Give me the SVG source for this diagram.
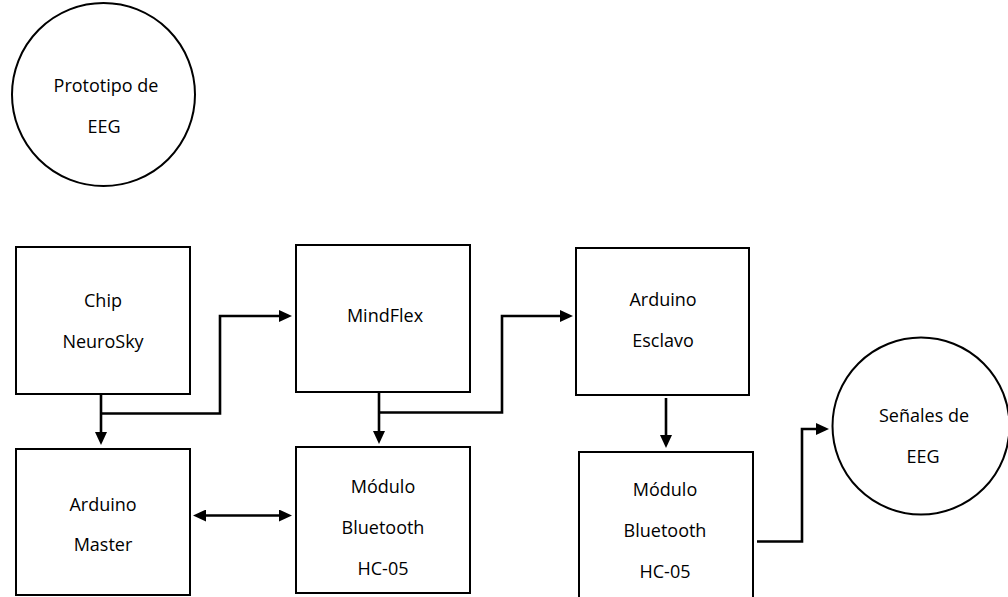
<svg xmlns="http://www.w3.org/2000/svg" width="1008" height="597" viewBox="0 0 1008 597">
<defs>
<style>
.box{fill:#fff;stroke:#000;stroke-width:2}
.circ{fill:#fff;stroke:#000;stroke-width:2}
.lbl{font-family:"Open Sans","Noto Sans","Liberation Sans",sans-serif;font-size:18px;fill:#000;text-anchor:middle}
.wire{fill:none;stroke:#000;stroke-width:2.6}
</style>
<marker id="ah" viewBox="0 0 13 12" refX="0" refY="6" markerWidth="13" markerHeight="12" markerUnits="userSpaceOnUse" orient="auto-start-reverse">
<path d="M0,0 L13,6 L0,12 z" fill="#000"/>
</marker>
</defs>
<rect width="1008" height="597" fill="#fff"/>

<g id="prototipo">
<circle class="circ" cx="103.5" cy="94.5" r="91.5"/>
<text class="lbl" x="106" y="92">Prototipo de</text>
<text class="lbl" x="104" y="133">EEG</text>
</g>

<g id="chip">
<rect class="box" x="16" y="247" width="174" height="147"/>
<text class="lbl" x="103" y="307">Chip</text>
<text class="lbl" x="103" y="348">NeuroSky</text>
</g>

<g id="mindflex">
<rect class="box" x="296" y="245" width="174" height="147"/>
<text class="lbl" x="385" y="322">MindFlex</text>
</g>

<g id="esclavo">
<rect class="box" x="576" y="248" width="173" height="147"/>
<text class="lbl" x="663" y="306">Arduino</text>
<text class="lbl" x="663" y="347">Esclavo</text>
</g>

<g id="master">
<rect class="box" x="16" y="449" width="174" height="146"/>
<text class="lbl" x="103" y="511">Arduino</text>
<text class="lbl" x="103" y="551">Master</text>
</g>

<g id="bt1">
<rect class="box" x="296" y="447" width="174" height="146"/>
<text class="lbl" x="383" y="493">Módulo</text>
<text class="lbl" x="383" y="534">Bluetooth</text>
<text class="lbl" x="383" y="575">HC-05</text>
</g>

<g id="bt2">
<rect class="box" x="579" y="452" width="174" height="150"/>
<text class="lbl" x="665" y="496">Módulo</text>
<text class="lbl" x="665" y="537">Bluetooth</text>
<text class="lbl" x="665" y="578">HC-05</text>
</g>

<g id="senales">
<circle class="circ" cx="921" cy="426" r="88.5"/>
<text class="lbl" x="924" y="422">Señales de</text>
<text class="lbl" x="923" y="463">EEG</text>
</g>

<g id="connectors">
<path class="wire" d="M101,395 V432" marker-end="url(#ah)"/>
<path class="wire" d="M101,413.5 H220 V316 H279" marker-end="url(#ah)"/>
<path class="wire" d="M379,393 V431" marker-end="url(#ah)"/>
<path class="wire" d="M379,412.5 H502 V316 H560" marker-end="url(#ah)"/>
<path class="wire" d="M666,398 V435" marker-end="url(#ah)"/>
<path class="wire" d="M206,515.5 H279" marker-start="url(#ah)" marker-end="url(#ah)"/>
<path class="wire" d="M757,541.5 H802 V429 H816" marker-end="url(#ah)"/>
</g>
</svg>
